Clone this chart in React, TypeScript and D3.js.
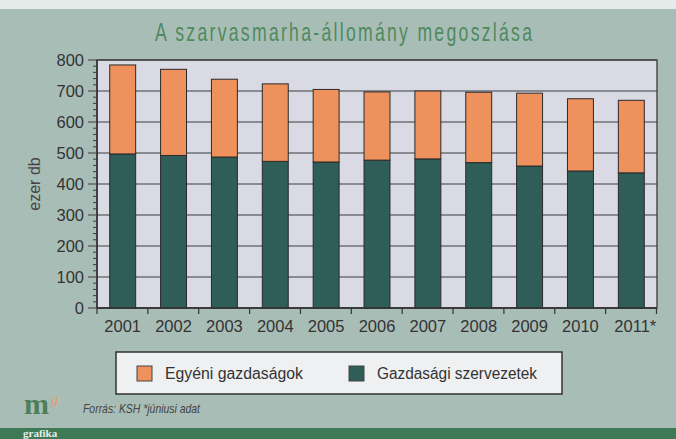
import * as d3 from 'd3';

const YEARS = ['2001', '2002', '2003', '2004', '2005', '2006', '2007', '2008', '2009', '2010', '2011*'];
// thousand head
const SZERVEZETEK = [497, 492, 487, 473, 471, 477, 481, 469, 458, 442, 436];
const TOTAL = [784, 770, 738, 723, 705, 697, 700, 696, 693, 675, 670];
const Y_TICKS = [0, 100, 200, 300, 400, 500, 600, 700, 800];
const SERIES = ['Egyéni gazdaságok', 'Gazdasági szervezetek'];

const W = 676;
const H = 439;
const PLOT = { left: 97, right: 657, top: 60, bottom: 308 };

const ORANGE = '#ef915c';
const TEAL = '#2e5e57';
const BG = '#a9bdb7';

export default function App() {
  const x = d3
    .scaleBand<string>()
    .domain(YEARS)
    .range([PLOT.left, PLOT.right])
    .paddingInner(0.49)
    .paddingOuter(0.25);
  const y = d3.scaleLinear().domain([0, 800]).range([PLOT.bottom, PLOT.top]);
  const minor = d3.range(0, 801, 20).filter((v) => v % 100 !== 0);
  const step = x.step();
  const boundaries = d3.range(YEARS.length + 1).map((i) => PLOT.left + i * step);

  return (
    <svg
      width={W}
      height={H}
      style={{ position: 'absolute', left: 0, top: 0, display: 'block' }}
      fontFamily="'Liberation Sans', Arial, sans-serif"
    >
      <rect width={W} height={H} fill={BG} />
      <rect width={W} height={9} fill="#e4ebe8" />
      <rect y={428} width={W} height={11} fill="#3f7a57" />

      {/* condensed title: squeeze glyphs, keep the wide letter spacing */}
      <text
        transform="translate(155,41) scale(0.68,1)"
        fontSize={26}
        fill="#4f8a5e"
        textLength={377 / 0.68}
        lengthAdjust="spacing"
      >
        A szarvasmarha-állomány megoszlása
      </text>

      {/* plot area */}
      <rect
        x={PLOT.left}
        y={PLOT.top}
        width={PLOT.right - PLOT.left}
        height={PLOT.bottom - PLOT.top}
        fill="#d9dae4"
        stroke="#3a3a3a"
        strokeWidth={1.3}
      />
      {Y_TICKS.map((t) => (
        <line key={'g' + t} x1={88} x2={PLOT.right} y1={y(t)} y2={y(t)} stroke="#3d3d3d" strokeWidth={1.2} />
      ))}
      {minor.map((t) => (
        <line key={'m' + t} x1={93} x2={PLOT.left} y1={y(t)} y2={y(t)} stroke="#3d3d3d" strokeWidth={1} />
      ))}
      {Y_TICKS.map((t) => (
        <text key={'l' + t} x={84} y={y(t) + 6} textAnchor="end" fontSize={16.5} fill="#333">
          {t}
        </text>
      ))}
      <text
        transform={`translate(40,${(PLOT.top + PLOT.bottom) / 2}) rotate(-90)`}
        textAnchor="middle"
        fontSize={16}
        fill="#444"
      >
        ezer db
      </text>

      {YEARS.map((yr, i) => (
        <g key={yr}>
          <rect
            x={x(yr)}
            y={y(SZERVEZETEK[i])}
            width={x.bandwidth()}
            height={y(0) - y(SZERVEZETEK[i])}
            fill={TEAL}
            stroke="#2a2a2a"
            strokeWidth={1}
          />
          <rect
            x={x(yr)}
            y={y(TOTAL[i])}
            width={x.bandwidth()}
            height={y(SZERVEZETEK[i]) - y(TOTAL[i])}
            fill={ORANGE}
            stroke="#2a2a2a"
            strokeWidth={1}
          />
          <text
            x={(x(yr) ?? 0) + x.bandwidth() / 2 + (yr.endsWith('*') ? 4 : 0)}
            y={PLOT.bottom + 24}
            textAnchor="middle"
            fontSize={16.5}
            fill="#333"
          >
            {yr}
          </text>
        </g>
      ))}
      <line x1={PLOT.left} x2={PLOT.right} y1={PLOT.bottom} y2={PLOT.bottom} stroke="#333" strokeWidth={1.5} />
      <line x1={PLOT.left} x2={PLOT.left} y1={PLOT.top} y2={PLOT.bottom} stroke="#333" strokeWidth={1.5} />
      {boundaries.map((bx, i) => (
        <line key={'xt' + i} x1={bx} x2={bx} y1={PLOT.bottom} y2={PLOT.bottom + 6} stroke="#333" strokeWidth={1.2} />
      ))}

      {/* legend */}
      <rect x={116} y={352} width={446} height={42} fill="#eef0f2" stroke="#333" strokeWidth={1.5} />
      {SERIES.map((s, i) => {
        const lx = i === 0 ? 137 : 349;
        return (
          <g key={s}>
            <rect x={lx} y={366} width={15} height={15} fill={i === 0 ? ORANGE : TEAL} stroke="#444" strokeWidth={1} />
            <text x={lx + 28} y={379} fontSize={16} fill="#333" textLength={i === 0 ? 138 : 160} lengthAdjust="spacingAndGlyphs">
              {s}
            </text>
          </g>
        );
      })}

      <text
        x={83}
        y={413}
        fontSize={13}
        fontStyle="italic"
        fill="#444"
        textLength={117}
        lengthAdjust="spacingAndGlyphs"
      >
        Forrás: KSH *júniusi adat
      </text>

      {/* logo */}
      <text x={24} y={414} fontSize={30} fontWeight="bold" fill="#4d7f5a" fontFamily="'Liberation Serif', serif">
        m
      </text>
      <text x={51} y={404} fontSize={15} fontStyle="italic" fill="#e0a070" fontFamily="'Liberation Serif', serif">
        g
      </text>
      <text x={23} y={437} fontSize={11} fontWeight="bold" fill="#e8efe9" fontFamily="'Liberation Serif', serif">
        grafika
      </text>
    </svg>
  );
}
